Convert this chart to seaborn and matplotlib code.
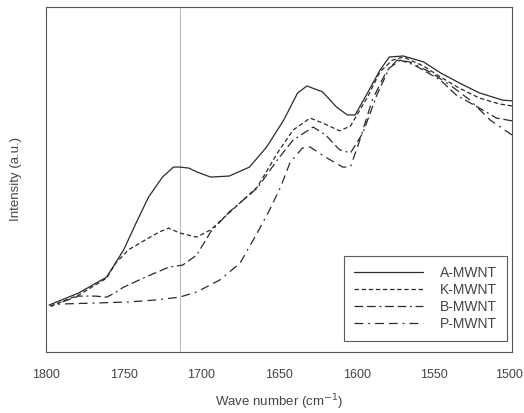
import pandas as pd
import matplotlib
matplotlib.use('Agg')
import matplotlib.pyplot as plt
import matplotlib.transforms as mtransforms
import seaborn as sns

# Spectra (wave number in cm-1, intensity in a.u.)
wn_a = [1798, 1779, 1761, 1750, 1742, 1734, 1725, 1718, 1714, 1708, 1703, 1694, 1682, 1669, 1658, 1647,
        1638, 1632, 1622, 1613, 1606, 1601, 1593, 1585, 1579, 1570, 1557, 1546, 1534, 1521, 1506, 1500]
int_a = [13.6, 17.1, 21.7, 29.6, 37.4, 44.9, 50.7, 53.6, 53.6, 53.3, 52.2, 50.7, 51.0, 53.6, 59.4, 67.2,
         75.1, 77.1, 75.4, 71.0, 68.7, 68.7, 75.1, 81.7, 85.5, 85.8, 84.1, 80.9, 78.0, 75.1, 73.0, 72.8]

wn_k = [1797, 1779, 1761, 1755, 1747, 1736, 1727, 1721, 1714, 1703, 1694, 1680, 1664, 1651, 1641, 1630,
        1622, 1611, 1604, 1593, 1585, 1577, 1570, 1557, 1546, 1534, 1521, 1508, 1500]
int_k = [13.3, 16.5, 21.4, 25.8, 29.6, 32.5, 34.8, 35.9, 34.5, 33.3, 35.4, 41.2, 47.8, 57.7, 64.3, 67.8,
         66.4, 64.1, 65.5, 73.9, 81.2, 84.6, 85.5, 82.9, 79.7, 76.5, 73.6, 71.9, 71.3]

wn_b = [1797, 1779, 1768, 1761, 1757, 1750, 1736, 1721, 1712, 1703, 1694, 1682, 1664, 1651, 1641, 1628,
        1620, 1611, 1604, 1596, 1587, 1579, 1572, 1563, 1546, 1536, 1521, 1510, 1500]
int_b = [13.3, 16.2, 16.2, 15.9, 16.8, 18.8, 21.7, 24.6, 25.2, 28.1, 34.8, 40.6, 47.5, 55.7, 61.4, 65.2,
         62.9, 58.6, 57.7, 63.5, 74.5, 82.3, 84.6, 83.2, 78.8, 74.5, 70.7, 67.8, 67.0]

wn_p = [1797, 1791, 1768, 1747, 1729, 1714, 1703, 1688, 1675, 1664, 1656, 1649, 1643, 1635, 1630, 1619,
        1609, 1604, 1598, 1590, 1581, 1574, 1566, 1553, 1540, 1527, 1514, 1500]
int_p = [13.3, 13.9, 14.2, 14.5, 15.1, 15.9, 17.4, 20.9, 25.8, 34.5, 41.2, 47.8, 54.8, 59.1, 59.4, 56.2,
         53.6, 53.6, 61.4, 73.0, 81.2, 84.6, 84.1, 81.2, 77.4, 73.0, 67.2, 62.9]

samples = ['A-MWNT', 'K-MWNT', 'B-MWNT', 'P-MWNT']
marker_wn = 1714
x_ticks = [1800, 1750, 1700, 1650, 1600, 1550, 1500]

frames = []
for name, w, i in zip(samples, [wn_a, wn_k, wn_b, wn_p], [int_a, int_k, int_b, int_p]):
    frames.append(pd.DataFrame({'wave': w, 'intensity': i, 'sample': name}))
df = pd.concat(frames, ignore_index=True)

sns.set_style('white')
plt.rcParams['font.family'] = ['Liberation Sans', 'DejaVu Sans']

fig = plt.figure(figsize=(5.24, 4.13), dpi=100)
ax = fig.add_axes([0.0878, 0.1477, 0.8893, 0.8354])

dash_map = {'A-MWNT': '', 'K-MWNT': (3.5, 2.2), 'B-MWNT': (7, 3, 7, 3, 1.5, 3), 'P-MWNT': (7, 4, 1.5, 4, 7, 4)}
sns.lineplot(data=df, x='wave', y='intensity', style='sample', dashes=dash_map,
             color='#2b2b2b', linewidth=0.9, estimator=None, sort=True, ax=ax)

ax.axvline(marker_wn, color='#bdbdbd', linewidth=0.8, zorder=0)

ax.set_xlim(1800, 1500)
ax.set_ylim(0, 100)
ax.set_xticks(x_ticks)
ax.set_yticks([])
ax.tick_params(axis='x', direction='inout', length=5, width=0.8, colors='#444444', labelsize=9, pad=10)
for s in ax.spines.values():
    s.set_color('#555555')
    s.set_linewidth(0.8)

# keep the last tick label inside the canvas
last = ax.get_xticklabels()[-1]
last.set_transform(last.get_transform() + mtransforms.ScaledTranslation(-3 / 100, 0, fig.dpi_scale_trans))

ax.set_xlabel('Wave number (cm$^{-1}$)', fontsize=9.5, color='#444444', labelpad=8)
ax.set_ylabel('Intensity (a.u.)', fontsize=9.5, color='#444444', labelpad=17)

leg = ax.legend(loc='lower right', bbox_to_anchor=(0.989, 0.032), borderaxespad=0,
                frameon=True, fancybox=False, edgecolor='#333333', fontsize=10,
                handlelength=5.0, handletextpad=1.2, labelspacing=0.22, borderpad=0.7)
leg.get_frame().set_linewidth(0.8)
for t in leg.get_texts():
    t.set_color('#444444')

fig.savefig('out.png', dpi=100)
